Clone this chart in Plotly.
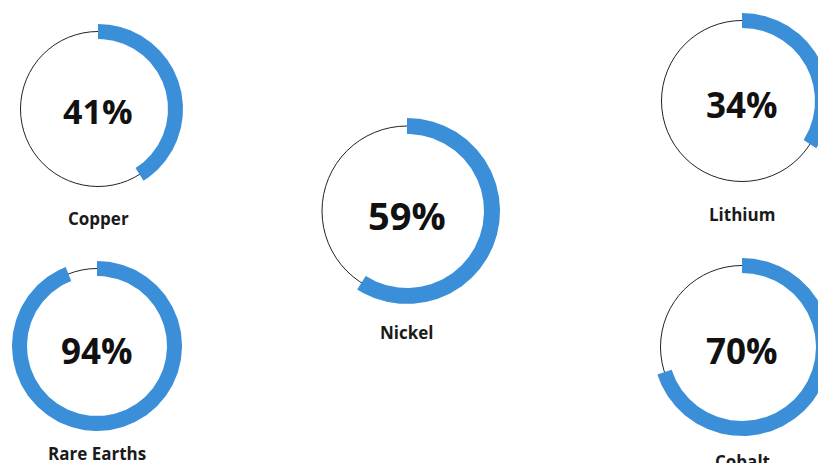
import numpy as np
import plotly.graph_objects as go

# ---- data ----
categories = ["Copper", "Rare Earths", "Nickel", "Lithium", "Cobalt"]
values = [41, 94, 59, 34, 70]

# ---- layout (pixel positions of each gauge) ----
centers_x = [98, 97, 407, 742, 742]
centers_y = [109, 346, 211, 101, 347]
outer_r = [85, 85, 93, 88, 89]
band = [15, 15, 16, 15, 15]
pct_size = [34, 35, 38, 35, 35]
pct_dy = [2, 4, 4, 3, 3]
label_y = [218, 453, 332, 214, 461]

BLUE = "#3B8FD9"
W, H = 818, 463

fig = go.Figure()
shapes = []
annotations = []

for cat, v, cx, cy, ro, b, fs, dy, ly in zip(categories, values, centers_x, centers_y,
                                            outer_r, band, pct_size, pct_dy, label_y):
    ri = ro - b
    rm = (ro + ri) / 2
    # thin full circle
    shapes.append(dict(type="circle", xref="x", yref="y", layer="below",
                       x0=cx - rm, x1=cx + rm, y0=cy - rm, y1=cy + rm,
                       line=dict(color="#222222", width=1), fillcolor="rgba(0,0,0,0)"))
    # blue arc (annular sector) from 12 o'clock clockwise
    th = np.linspace(0, 2 * np.pi * v / 100.0, 300)
    xo = cx + ro * np.sin(th)
    yo = cy - ro * np.cos(th)
    xi = cx + ri * np.sin(th[::-1])
    yi = cy - ri * np.cos(th[::-1])
    fig.add_trace(go.Scatter(x=np.concatenate([xo, xi, xo[:1]]),
                             y=np.concatenate([yo, yi, yo[:1]]),
                             mode="lines", fill="toself", fillcolor=BLUE,
                             line=dict(width=0, color=BLUE), hoverinfo="skip",
                             showlegend=False, name=cat))
    annotations.append(dict(x=cx, y=cy + dy, xref="x", yref="y", text=f"<b>{v}%</b>",
                            showarrow=False, xanchor="center", yanchor="middle",
                            font=dict(family="Open Sans", size=fs, color="#111111")))
    annotations.append(dict(x=cx, y=ly, xref="x", yref="y", text=f"<b>{cat}</b>",
                            showarrow=False, xanchor="center", yanchor="middle",
                            font=dict(family="Open Sans", size=17, color="#1a1a1a")))

fig.update_layout(
    width=W, height=H,
    margin=dict(l=0, r=0, t=0, b=0),
    paper_bgcolor="white", plot_bgcolor="white",
    xaxis=dict(range=[0, W], visible=False, fixedrange=True),
    yaxis=dict(range=[H, 0], visible=False, fixedrange=True),
    shapes=shapes, annotations=annotations, showlegend=False,
)

fig.write_html("out.html", config={"displayModeBar": False},
               post_script="document.body.style.margin='0';document.body.style.overflow='hidden';")
